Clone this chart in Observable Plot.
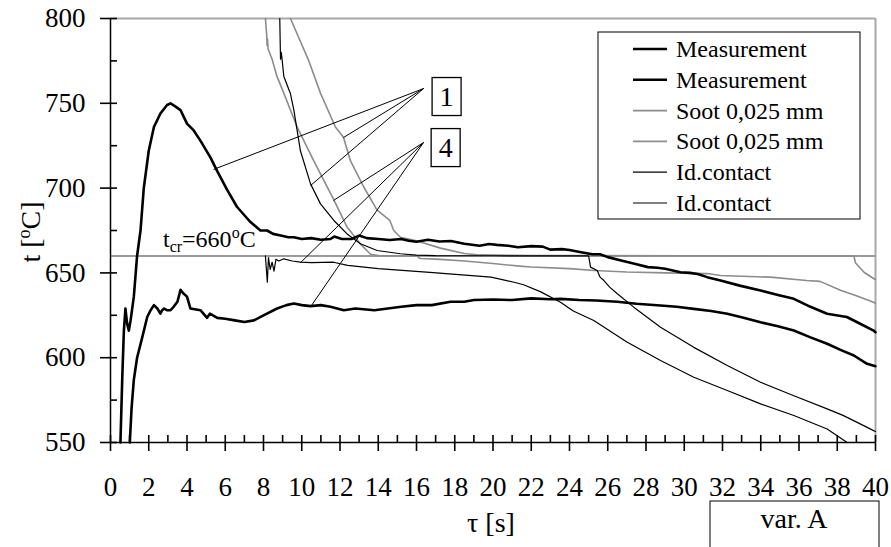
<!DOCTYPE html>
<html>
<head>
<meta charset="utf-8">
<script src="https://cdn.jsdelivr.net/npm/d3@7"></script>
<script src="https://cdn.jsdelivr.net/npm/@observablehq/plot@0.6"></script>
<style>
  html, body { margin: 0; padding: 0; background: #fff; }
  #chart svg { display: block; }
</style>
</head>
<body>
<div id="chart"></div>
<script>
// ---------- data (τ [s], t [°C]) ----------
const measurement1 = [[0.52,550],[0.62,590],[0.7,616],[0.78,629],[0.87,620],[0.96,616],[1.05,622],[1.22,636],[1.39,660],[1.57,675],[1.74,700],[2.0,722],[2.27,736],[2.61,744],[2.96,749],[3.14,750],[3.4,748],[3.66,746],[4.0,738],[4.35,734],[4.7,728],[5.23,718],[5.58,710],[6.1,699],[6.61,689],[7.0,684],[7.32,680],[7.84,675],[8.19,675],[8.5,673],[8.9,672],[9.3,671],[9.59,671],[10.0,670],[10.5,670.5],[11.0,669.5],[11.5,670],[11.7,671.4],[12.1,670],[12.6,670],[13.0,672],[13.4,670.5],[14.0,670],[14.6,669.4],[15.2,670],[15.6,669],[16.0,668.4],[16.6,669.5],[17.2,668.5],[17.8,668.8],[18.5,667.2],[19.3,666],[19.8,667],[20.2,666.5],[20.8,666],[21.3,665.1],[22.0,665.8],[22.6,665.5],[23.0,663.7],[23.6,664],[24.0,663.5],[24.6,662.2],[25.2,661],[25.6,661],[26.0,659.3],[26.7,657.3],[27.4,655.4],[28.1,653.4],[28.6,653],[29.0,652.4],[29.8,650.4],[30.3,650],[30.7,649.4],[31.2,647.5],[31.9,645.5],[32.9,642.5],[33.99,639.6],[34.9,637],[35.73,634.7],[36.6,630],[37.47,625.9],[38.5,624],[39.2,620],[39.9,616],[40,615]];

const measurement4 = [[1.01,550],[1.1,570],[1.22,587],[1.39,600],[1.66,612],[1.92,624],[2.1,628],[2.27,631],[2.45,629],[2.61,626],[2.7,628],[2.8,629],[2.95,628],[3.14,628],[3.3,630],[3.5,633],[3.66,640],[3.8,638],[4.0,636],[4.18,629],[4.7,628],[5.05,623.5],[5.2,626],[5.58,623.5],[6.0,623],[6.5,622],[7.0,621],[7.5,622],[8.0,625],[8.71,629],[9.2,631],[9.59,632],[10.0,631],[10.46,630.4],[11.0,631],[11.5,630],[12.2,628],[12.8,629],[13.8,628],[14.5,629],[15.2,630],[16.0,631],[16.8,631],[17.78,633],[18.5,633],[19.0,634],[20.0,634.3],[21.0,634],[22.0,635],[23.0,634.5],[23.53,634.7],[24.5,634],[25.4,633.7],[26.5,633],[27.5,631.8],[28.76,630.8],[29.6,630],[30.5,628.8],[31.4,627.5],[32.25,625.9],[33.1,623.5],[33.99,620.9],[34.9,618.5],[35.73,616],[36.6,612],[37.47,608.2],[38.2,604.5],[38.87,601.3],[39.56,596.4],[40,595]];

const soot1 = [[9.41,800],[10.37,775],[10.98,756],[11.76,736],[12.18,730],[12.55,716],[13.25,700.5],[13.94,687],[14.6,681],[14.81,675],[15.16,671],[16.0,669],[17.25,664.6],[18.5,661.4],[19.3,660.6],[22.0,660.3],[25.0,660.2],[30.0,660.1],[35.0,660],[38.87,660],[38.95,656],[39.4,650.4],[39.9,646.7],[40,646]];

const soot4 = [[8.1,800],[8.17,790],[8.19,784],[8.21,788],[8.24,782],[8.45,776],[8.7,766],[9.06,756],[9.76,736],[10.63,716],[11.68,693],[12.37,677],[13.07,667],[13.6,661],[14.0,660.3],[16.0,660],[16.2,658.5],[17.25,658],[18.5,657],[20.0,655.5],[21.4,654],[22.0,653.5],[24.0,652.5],[25.3,651.4],[27.0,650.5],[29.0,650],[31.2,649.6],[31.9,648.5],[33.0,648],[34.5,647.5],[36.4,645.5],[37.1,645],[38.2,639.6],[39.0,636.5],[39.9,632.7],[40,632]];

const idContact1 = [[8.85,800],[8.89,776],[8.93,780],[8.98,775],[9.06,766],[9.41,755.6],[9.59,745.8],[9.93,722],[10.46,702.5],[10.98,690.7],[11.68,680.9],[12.37,673],[13.07,667.2],[13.94,663.2],[15.16,661.3],[16.0,660.5],[17.0,660.2],[20.0,660.1],[25.0,660],[25.1,653.4],[25.45,651.4],[25.6,647.5],[25.8,645.5],[26.1,641.6],[26.5,637.7],[27.36,629.8],[28.76,617.9],[30.5,606.1],[32.25,595.4],[33.99,585.5],[35.73,577.6],[37.47,569.8],[38.3,566],[39.2,561],[39.9,557],[40,556.5]];

const idContact4 = [[8.1,660],[8.2,644.5],[8.26,659],[8.35,652],[8.45,656.3],[8.55,651],[8.65,658],[8.8,657],[9.06,658.3],[9.5,657],[9.93,656.3],[10.5,656],[11.66,656.3],[12.4,654.4],[14.0,652.5],[16.7,650.3],[19.9,647.5],[21.1,644.5],[21.6,643],[22.5,638.8],[23.53,632.7],[24.2,627.5],[25.27,621.9],[27.0,609.2],[28.76,598.3],[30.5,588.5],[32.25,580.7],[33.99,572.8],[35.73,565.9],[37.47,558],[38.52,550]];

const tauTicks = d3.range(0, 41, 2);
const tauMinorTicks = d3.range(0, 41, 1);
const tempTicks = [550, 600, 650, 700, 750, 800];
const tempMinorTicks = d3.range(550, 801, 25);
const tCritical = 660;

const legendLabels = ["Measurement", "Measurement", "Soot 0,025 mm", "Soot 0,025 mm", "Id.contact", "Id.contact"];
const legendKinds  = ["meas", "meas", "soot", "soot", "id", "id"];

// leader lines: label anchor -> curve point
const labelNames = ["1", "4"];
const labelAnchorTau = [16.37, 16.37];
const labelAnchorTemp = [758.7, 726.9];
const labelBoxTau = [17.6, 17.55];
const labelBoxTemp = [753.7, 723.6];
const leaderTargets = [
  {label: 0, tau: 5.39, temp: 711},
  {label: 0, tau: 12.18, temp: 729.8},
  {label: 0, tau: 10.46, temp: 701.5},
  {label: 1, tau: 11.66, temp: 692.7},
  {label: 1, tau: 9.93, temp: 656},
  {label: 1, tau: 10.46, temp: 630}
];

// ---------- layout / styles ----------
const W = 891, H = 547;
const mLeft = 110, mRight = 16, mTop = 18, mBottom = 105;
const frameW = W - mLeft - mRight, frameH = H - mTop - mBottom;
const innerTick = 7;
const serif = "'Liberation Serif', 'Times New Roman', 'DejaVu Serif', serif";
const sootColor = "#8c8c8c";
const kindStyle = {
  meas: {stroke: "#000", width: 2.6},
  soot: {stroke: sootColor, width: 1.8},
  id:   {stroke: "#000", width: 1.2}
};

const X = d => d[0], Y = d => d[1];

const plot = Plot.plot({
  width: W,
  height: H,
  marginLeft: mLeft,
  marginRight: mRight,
  marginTop: mTop,
  marginBottom: mBottom,
  x: {domain: [0, 40]},
  y: {domain: [550, 800]},
  style: {fontFamily: serif, background: "#fff", color: "#000", overflow: "visible"},
  marks: [
    Plot.ruleY([800], {stroke: "#a8a8a8", strokeWidth: 2}),
    Plot.ruleX([40], {stroke: "#a8a8a8", strokeWidth: 2}),
    Plot.ruleY([tCritical], {stroke: "#9a9a9a", strokeWidth: 2}),
    Plot.line(soot4, {x: X, y: Y, stroke: sootColor, strokeWidth: 1.6}),
    Plot.line(soot1, {x: X, y: Y, stroke: sootColor, strokeWidth: 1.6}),
    Plot.line(idContact1, {x: X, y: Y, stroke: "#000", strokeWidth: 1.2}),
    Plot.line(idContact4, {x: X, y: Y, stroke: "#000", strokeWidth: 1.2}),
    Plot.line(measurement1, {x: X, y: Y, stroke: "#000", strokeWidth: 2.6}),
    Plot.line(measurement4, {x: X, y: Y, stroke: "#000", strokeWidth: 2.6}),
    Plot.link(leaderTargets, {
      x1: d => labelAnchorTau[d.label], y1: d => labelAnchorTemp[d.label],
      x2: d => d.tau, y2: d => d.temp,
      stroke: "#000", strokeWidth: 1
    }),
    // inner ticks (inside the frame)
    Plot.tickY(tempMinorTicks, {y: d => d, insetRight: frameW - innerTick, stroke: "#000", strokeWidth: 1.6}),
    Plot.tickX(tauMinorTicks, {x: d => d, insetTop: frameH - innerTick, stroke: "#000", strokeWidth: 1.6}),
    Plot.ruleX([0], {stroke: "#000", strokeWidth: 1.5}),
    Plot.ruleY([550], {stroke: "#000", strokeWidth: 1.5}),
    Plot.axisY(tempTicks, {tickSize: 10, tickPadding: 15, fontSize: 27, label: null, strokeWidth: 1.6}),
    Plot.axisX(tauTicks, {tickSize: 9, tickPadding: 25, fontSize: 27, label: null, strokeWidth: 1.6})
  ]
});

document.getElementById("chart").appendChild(plot);

// ---------- annotations ----------
const sx = plot.scale("x"), sy = plot.scale("y");
const svg = d3.select(plot);
const ann = svg.append("g").attr("font-family", serif).attr("fill", "#000").attr("text-anchor", "start");

// t_cr = 660 °C
const tcr = ann.append("text")
  .attr("x", sx.apply(2.77)).attr("y", sy.apply(tCritical) - 8)
  .attr("text-anchor", "start")
  .attr("font-size", 24);
tcr.append("tspan").text("t");
tcr.append("tspan").attr("font-size", 16).attr("dy", 5).text("cr");
tcr.append("tspan").attr("dy", -5).text("=660");
tcr.append("tspan").attr("font-size", 16).attr("dy", -9).text("o");
tcr.append("tspan").attr("dy", 9).text("C");

// label boxes "1" and "4"
labelNames.forEach((name, i) => {
  const cx = sx.apply(labelBoxTau[i]), cy = sy.apply(labelBoxTemp[i]);
  ann.append("rect")
    .attr("x", cx - 14.5).attr("y", cy - 19)
    .attr("width", 29).attr("height", 38)
    .attr("fill", "#fff").attr("stroke", "#000").attr("stroke-width", 1.3);
  ann.append("text")
    .attr("x", cx).attr("y", cy + 9.5)
    .attr("text-anchor", "middle").attr("font-size", 28)
    .text(name);
});

// legend
const lg = ann.append("g");
lg.append("rect")
  .attr("x", 598).attr("y", 32).attr("width", 262).attr("height", 187)
  .attr("fill", "#fff").attr("stroke", "#000").attr("stroke-width", 1);
legendLabels.forEach((lab, i) => {
  const y = 49 + i * 30.8;
  const st = kindStyle[legendKinds[i]];
  lg.append("line")
    .attr("x1", 633).attr("x2", 667).attr("y1", y).attr("y2", y)
    .attr("stroke", st.stroke).attr("stroke-width", st.width);
  lg.append("text")
    .attr("x", 676).attr("y", y + 8)
    .attr("text-anchor", "start")
    .attr("font-size", 24)
    .text(lab);
});

// axis titles
const yt = ann.append("text")
  .attr("transform", "translate(40,232) rotate(-90)")
  .attr("text-anchor", "middle").attr("font-size", 28);
yt.append("tspan").text("t [");
yt.append("tspan").attr("font-size", 18).attr("dy", -10).text("o");
yt.append("tspan").attr("dy", 10).text("C]");

ann.append("text")
  .attr("x", 491).attr("y", 532)
  .attr("text-anchor", "middle").attr("font-size", 28)
  .text("τ [s]");

// "var. A" box
ann.append("rect")
  .attr("x", 710).attr("y", 501).attr("width", 169).attr("height", 60)
  .attr("fill", "none").attr("stroke", "#000").attr("stroke-width", 1);
ann.append("text")
  .attr("x", 794).attr("y", 528)
  .attr("text-anchor", "middle").attr("font-size", 28)
  .text("var. A");
</script>
</body>
</html>
